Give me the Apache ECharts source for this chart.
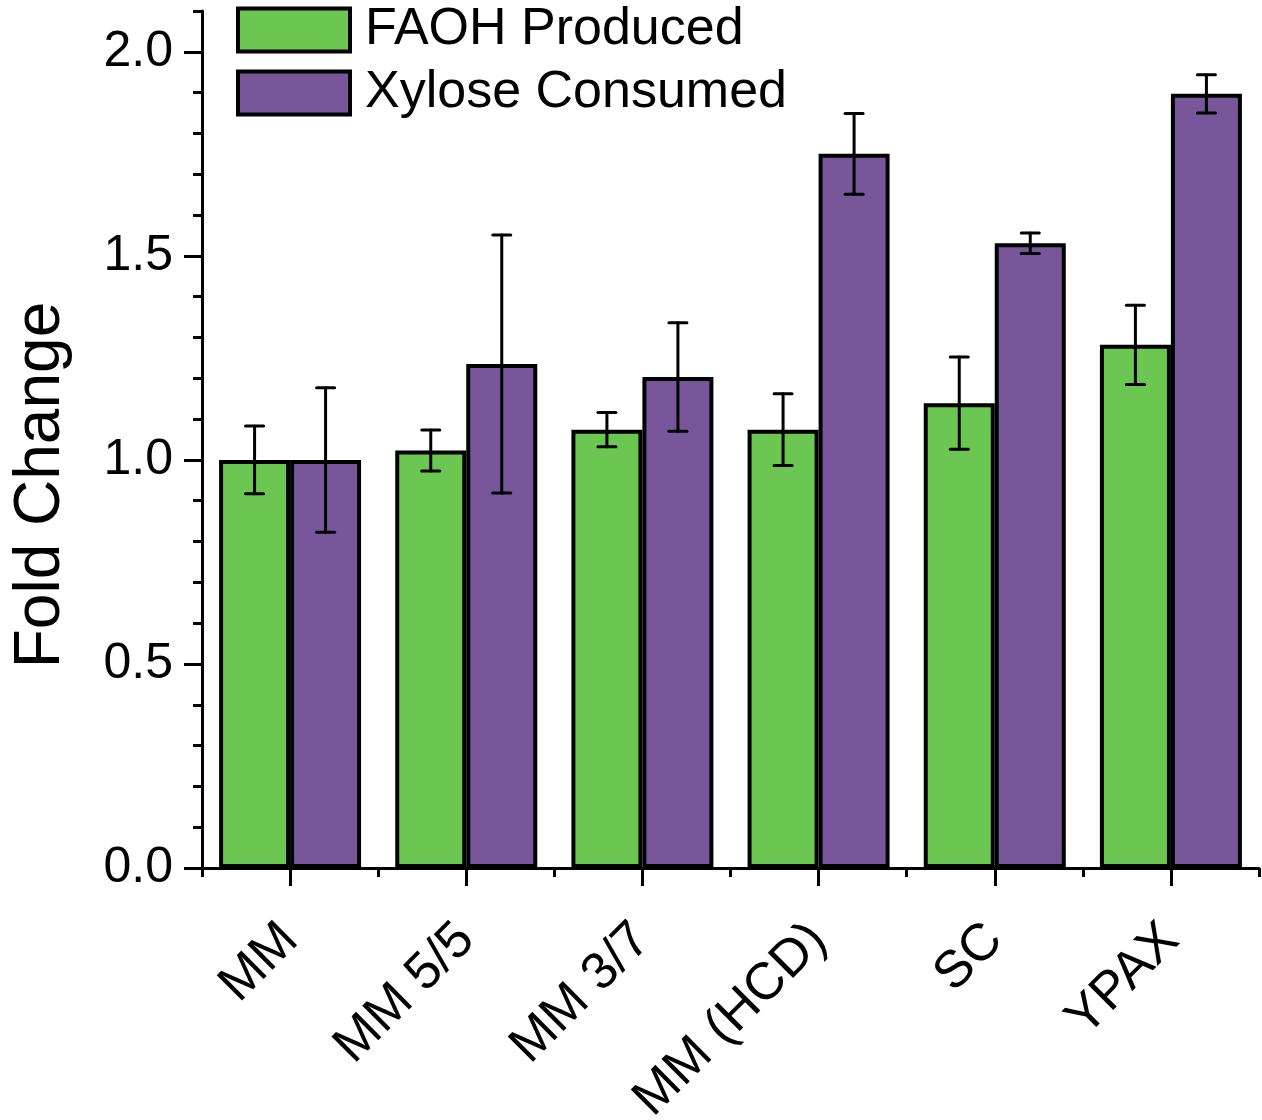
<!DOCTYPE html>
<html>
<head>
<meta charset="utf-8">
<script src="https://cdn.jsdelivr.net/npm/echarts@6/dist/echarts.min.js"></script>
<style>
html,body{margin:0;padding:0;background:#fff;}
#chart{width:1262px;height:1120px;}
</style>
</head>
<body>
<div id="chart"></div>
<script>
const categories = ['MM', 'MM 5/5', 'MM 3/7', 'MM (HCD)', 'SC', 'YPAX'];
const faoh      = [1.000, 1.023, 1.074, 1.074, 1.139, 1.282];
const faohErr   = [0.083, 0.050, 0.042, 0.088, 0.113, 0.097];
const xylose    = [1.000, 1.235, 1.203, 1.750, 1.531, 1.897];
const xyloseErr = [0.177, 0.316, 0.133, 0.099, 0.025, 0.047];
const yMajorTicks = [0, 0.5, 1.0, 1.5, 2.0];
const yMinorTicks = [0.1,0.2,0.3,0.4,0.6,0.7,0.8,0.9,1.1,1.2,1.3,1.4,1.6,1.7,1.8,1.9,2.1];
const yTitle = 'Fold Change';

const FONT = '"Liberation Sans", Arial, Helvetica, sans-serif';
const GREEN = '#6CC752';
const PURPLE = '#78569A';
const BAR_W = 71;

function errSeries(name, vals, errs, sign) {
  return {
    type: 'custom',
    name: name + ' err',
    z: 10,
    silent: true,
    data: vals.map((v, i) => [i, v, errs[i]]),
    renderItem: function (params, api) {
      const i = api.value(0), v = api.value(1), e = api.value(2);
      const top = api.coord([i, v + e]);
      const bot = api.coord([i, v - e]);
      const x = top[0] + sign * BAR_W / 2;
      const cw = 9;
      const st = { stroke: '#000', lineWidth: 3, lineCap: 'round' };
      return {
        type: 'group',
        children: [
          { type: 'line', shape: { x1: x, y1: top[1], x2: x, y2: bot[1] }, style: st },
          { type: 'line', shape: { x1: x - cw, y1: top[1], x2: x + cw, y2: top[1] }, style: st },
          { type: 'line', shape: { x1: x - cw, y1: bot[1], x2: x + cw, y2: bot[1] }, style: st }
        ]
      };
    }
  };
}

const chart = echarts.init(document.getElementById('chart'), null, { renderer: 'canvas' });
chart.setOption({
  animation: false,
  backgroundColor: '#fff',
  textStyle: { fontFamily: FONT },
  grid: { left: 202, right: 3, top: 11, bottom: 252, containLabel: false, outerBoundsMode: 'none' },
  graphic: [
    {
      type: 'text',
      x: 41,
      y: 485,
      rotation: Math.PI / 2,
      style: { text: yTitle, font: '64px "Liberation Sans", Arial, sans-serif', fill: '#000', align: 'center', verticalAlign: 'middle' }
    }
  ],
  legend: {
    orient: 'vertical',
    left: 231,
    top: -1,
    itemWidth: 112,
    itemHeight: 43,
    itemGap: 11,
    icon: 'rect',
    data: ['FAOH Produced', 'Xylose Consumed'],
    textStyle: { fontFamily: FONT, fontSize: 52, lineHeight: 45, color: '#000', padding: [4, 0, 0, 10] },
    itemStyle: { borderColor: '#000', borderWidth: 4 }
  },
  xAxis: [
    {
      type: 'category',
      data: categories,
      position: 'bottom',
      boundaryGap: true,
      axisLine: { show: true, lineStyle: { color: '#000', width: 3 } },
      axisTick: { show: true, alignWithLabel: true, inside: false, length: 18, lineStyle: { color: '#000', width: 3 } },
      axisLabel: { show: true, rotate: 45, margin: 64, color: '#000', fontSize: 52, fontFamily: FONT, interval: 0 },
      splitLine: { show: false }
    },
    {
      type: 'category',
      data: categories,
      position: 'bottom',
      offset: 0,
      boundaryGap: true,
      axisLine: { show: false },
      axisTick: { show: true, inside: false, length: 9, interval: 0, lineStyle: { color: '#000', width: 3 } },
      axisLabel: { show: false },
      splitLine: { show: false }
    }
  ],
  yAxis: [
    {
      type: 'value',
      min: 0,
      max: 2.1,
      interval: 0.5,
      axisLine: { show: true, lineStyle: { color: '#000', width: 3 } },
      axisTick: { show: true, inside: false, length: 18, customValues: yMajorTicks, lineStyle: { color: '#000', width: 3 } },
      axisLabel: { show: true, margin: 29, color: '#000', fontSize: 50, fontFamily: FONT, customValues: yMajorTicks,
        formatter: v => v.toFixed(1) },
      splitLine: { show: false }
    },
    {
      type: 'value',
      min: 0,
      max: 2.1,
      position: 'left',
      offset: 0,
      axisLine: { show: false },
      axisTick: { show: true, inside: false, length: 9, customValues: yMinorTicks, lineStyle: { color: '#000', width: 3 } },
      axisLabel: { show: false },
      splitLine: { show: false }
    }
  ],
  series: [
    {
      name: 'FAOH Produced',
      type: 'bar',
      data: faoh,
      barWidth: BAR_W,
      barGap: '0%',
      itemStyle: { color: GREEN, borderColor: '#000', borderWidth: 4 }
    },
    {
      name: 'Xylose Consumed',
      type: 'bar',
      data: xylose,
      barWidth: BAR_W,
      barGap: '0%',
      itemStyle: { color: PURPLE, borderColor: '#000', borderWidth: 4 }
    },
    errSeries('FAOH Produced', faoh, faohErr, -1),
    errSeries('Xylose Consumed', xylose, xyloseErr, 1)
  ]
});
</script>
</body>
</html>
